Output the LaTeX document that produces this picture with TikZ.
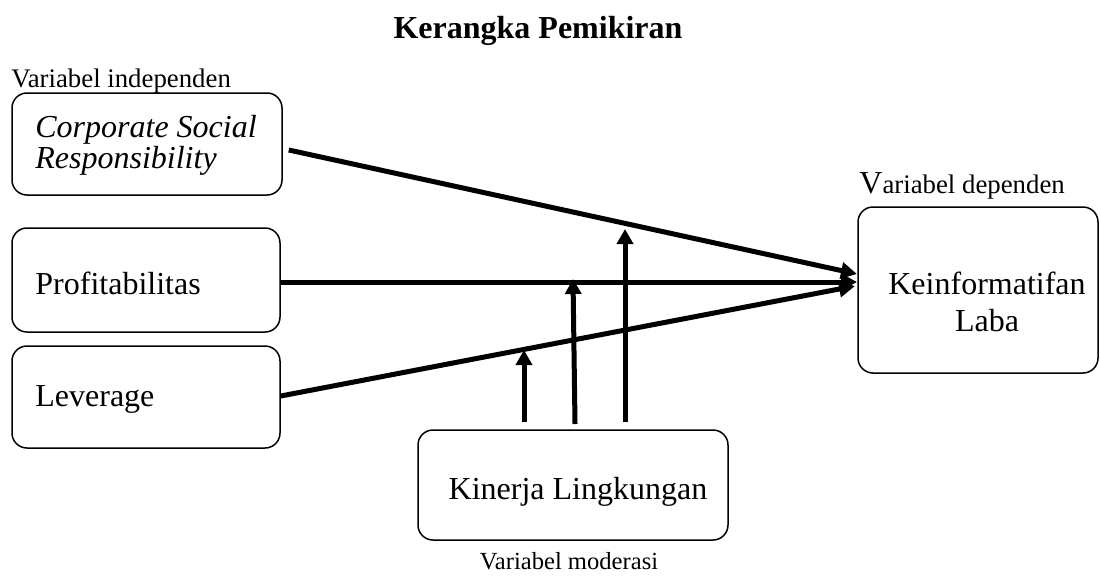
\documentclass[tikz,border=0pt]{standalone}
\usepackage{fontspec}
\setmainfont{Liberation Serif}
\usetikzlibrary{arrows.meta,calc}
\tikzset{
  box/.style={draw, line width=0.75pt, rounded corners=7.5pt, inner sep=0pt},
  txt/.style={inner sep=0pt, font=\fontsize{16}{15.5}\selectfont},
  small/.style={inner sep=0pt, font=\fontsize{13.4}{15}\selectfont},
  conn/.style={line width=2.5pt, -{Triangle[length=8pt,width=8pt]}},
  modarr/.style={line width=2.5pt, -{Triangle[length=7.5pt,width=8pt]}}
}
\begin{document}
\begin{tikzpicture}[x=0.5pt,y=-0.5pt]
\useasboundingbox (0,0) rectangle (1101,578);
% title
\node[inner sep=0pt, anchor=base, font=\fontsize{16}{19}\selectfont\bfseries] (title) at (538,38) {Kerangka Pemikiran};
% labels
\node[small, anchor=base west] (lind) at (11,87) {Variabel independen};
\node[small, anchor=base west] (ldep) at (859,193) {{\fontsize{16}{19}\selectfont V}ariabel dependen};
\node[small, anchor=base, font=\fontsize{12.3}{15}\selectfont] (lmod) at (569,569) {Variabel moderasi};
% boxes
\node[box, minimum width=135pt, minimum height=51pt] (csr) at (147,144) {};
\node[box, minimum width=134pt, minimum height=52pt] (prof) at (146,280) {};
\node[box, minimum width=134pt, minimum height=51pt] (lev) at (146,397) {};
\node[box, minimum width=120pt, minimum height=83pt] (ke) at (978,290) {};
\node[box, minimum width=155pt, minimum height=55pt] (kl) at (573,485) {};
% texts
\node[txt, anchor=west, align=left] (csrT) at (35,145) {\itshape Corporate Social\\\itshape Responsibility};
\node[txt, anchor=west] (profT) at (35,283) {Profitabilitas};
\node[txt, anchor=west] (levT) at (35,399) {Leverage};
\node[txt, align=center, font=\fontsize{16}{18.5}\selectfont] (keT) at (987,302) {Keinformatifan\\Laba};
\node[txt] (klT) at (578,492) {Kinerja Lingkungan};
% connectors
\coordinate (tip1) at (857,274);
\coordinate (tip2) at (857,282);
\coordinate (tip3) at (855,286);
\draw[conn] ($(csr.east)+(6,6)$) -- (tip1);
\draw[conn] (prof.east |- tip2) -- (tip2);
\draw[conn] ($(lev.east)+(0,-1)$) -- (tip3);
% moderating arrows
\coordinate (m1s) at (524,422); \coordinate (m1e) at (524,350);
\coordinate (m2s) at (575,424); \coordinate (m2e) at (573,279);
\coordinate (m3s) at (625,422); \coordinate (m3e) at (625,229);
\draw[modarr] (m1s) -- (m1e);
\draw[modarr] (m2s) -- (m2e);
\draw[modarr] (m3s) -- (m3e);
\end{tikzpicture}
\end{document}
